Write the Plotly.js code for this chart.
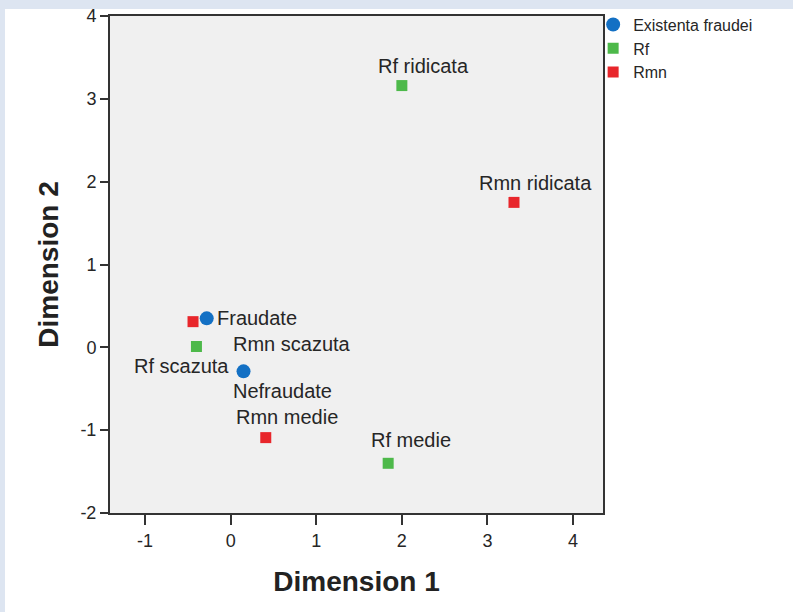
<!DOCTYPE html>
<html>
<head>
<meta charset="utf-8">
<script src="https://cdn.plot.ly/plotly-3.0.1.min.js"></script>
<style>
  html, body { margin: 0; padding: 0; width: 793px; height: 612px; background: #dde5f1; overflow: hidden; }
  #panel { position: absolute; left: 5px; top: 9px; width: 788px; height: 603px; background: #ffffff; }
  #chart { position: absolute; left: 0; top: 0; width: 793px; height: 612px; }
</style>
</head>
<body>
<div id="panel"></div>
<div id="chart"></div>
<script>
// Existenta fraudei
const fraudLabels = ["Fraudate", "Nefraudate"];
const fraudX = [-0.28, 0.15];
const fraudY = [0.35, -0.29];

// Rf
const rfLabels = ["Rf ridicata", "Rf scazuta", "Rf medie"];
const rfX = [2.00, -0.40, 1.84];
const rfY = [3.16, 0.01, -1.40];

// Rmn
const rmnLabels = ["Rmn ridicata", "Rmn scazuta", "Rmn medie"];
const rmnX = [3.31, -0.44, 0.41];
const rmnY = [1.75, 0.31, -1.09];

const xTicks = [-1, 0, 1, 2, 3, 4];
const xTickText = ["-1", "0", "1", "2", "3", "4"];
const yTicks = [-2, -1, 0, 1, 2, 3, 4];
const yTickText = ["-2", "-1", "0", "1", "2", "3", "4"];

// label offsets (pixels) – styling only
const labelStyle = {
  "Fraudate":     {xanchor: "left",   xshift: 8,   yshift: 0},
  "Nefraudate":   {xanchor: "center", xshift: 39,  yshift: -20},
  "Rf ridicata":  {xanchor: "center", xshift: 22,  yshift: 20},
  "Rf scazuta":   {xanchor: "center", xshift: -15, yshift: -19},
  "Rf medie":     {xanchor: "center", xshift: 23,  yshift: 23},
  "Rmn ridicata": {xanchor: "center", xshift: 22,  yshift: 19},
  "Rmn scazuta":  {xanchor: "center", xshift: 99,  yshift: -22},
  "Rmn medie":    {xanchor: "center", xshift: 21,  yshift: 21}
};

const FONT = "Liberation Sans, Arial, sans-serif";
const BLUE = "#1370c4", GREEN = "#4db94a", RED = "#e8262b";

const traces = [
  {x: fraudX, y: fraudY, text: fraudLabels, name: "Existenta fraudei", type: "scatter", mode: "markers",
   marker: {symbol: "circle", size: 14, color: BLUE}, hoverinfo: "text"},
  {x: rfX, y: rfY, text: rfLabels, name: "Rf", type: "scatter", mode: "markers",
   marker: {symbol: "square", size: 11, color: GREEN}, hoverinfo: "text"},
  {x: rmnX, y: rmnY, text: rmnLabels, name: "Rmn", type: "scatter", mode: "markers",
   marker: {symbol: "square", size: 11, color: RED}, hoverinfo: "text"}
];

const annotations = [];
[[fraudLabels, fraudX, fraudY], [rfLabels, rfX, rfY], [rmnLabels, rmnX, rmnY]].forEach(([labs, xs, ys]) => {
  labs.forEach((lab, i) => {
    const st = labelStyle[lab];
    annotations.push({
      x: xs[i], y: ys[i], xref: "x", yref: "y", text: lab, showarrow: false,
      xanchor: st.xanchor, yanchor: "middle", xshift: st.xshift, yshift: st.yshift,
      font: {family: FONT, size: 20, color: "#262626"}
    });
  });
});

const layout = {
  width: 793, height: 612,
  margin: {l: 110, r: 190, t: 16, b: 99, autoexpand: false},
  paper_bgcolor: "rgba(0,0,0,0)",
  plot_bgcolor: "#f0f0f0",
  font: {family: FONT, color: "#222222"},
  showlegend: true,
  legend: {
    x: 0.98, y: 1.017, xanchor: "left", yanchor: "top",
    bgcolor: "rgba(0,0,0,0)", borderwidth: 0,
    font: {family: FONT, size: 16, color: "#262626"},
    tracegroupgap: 0, itemsizing: "trace"
  },
  xaxis: {
    range: [-1.41, 4.35], tickmode: "array", tickvals: xTicks, ticktext: xTickText,
    ticks: "outside", ticklen: 10, tickwidth: 2, tickcolor: "#333333",
    showline: true, linecolor: "#333333", linewidth: 2, mirror: true,
    showgrid: false, zeroline: false, automargin: false,
    tickfont: {family: FONT, size: 18, color: "#262626"},
    title: {text: "<b>Dimension 1</b>", font: {family: FONT, size: 28, color: "#222222"}, standoff: 22}
  },
  yaxis: {
    range: [-2, 4], tickmode: "array", tickvals: yTicks, ticktext: yTickText,
    ticks: "outside", ticklen: 8, tickwidth: 2, tickcolor: "#333333",
    showline: true, linecolor: "#333333", linewidth: 2, mirror: true,
    showgrid: false, zeroline: false, automargin: false,
    tickfont: {family: FONT, size: 18, color: "#262626"},
    title: {text: "<b>Dimension 2</b>", font: {family: FONT, size: 28, color: "#222222"}, standoff: 14}
  },
  annotations: annotations
};

Plotly.newPlot("chart", traces, layout, {staticPlot: true, displayModeBar: false});
</script>
</body>
</html>
